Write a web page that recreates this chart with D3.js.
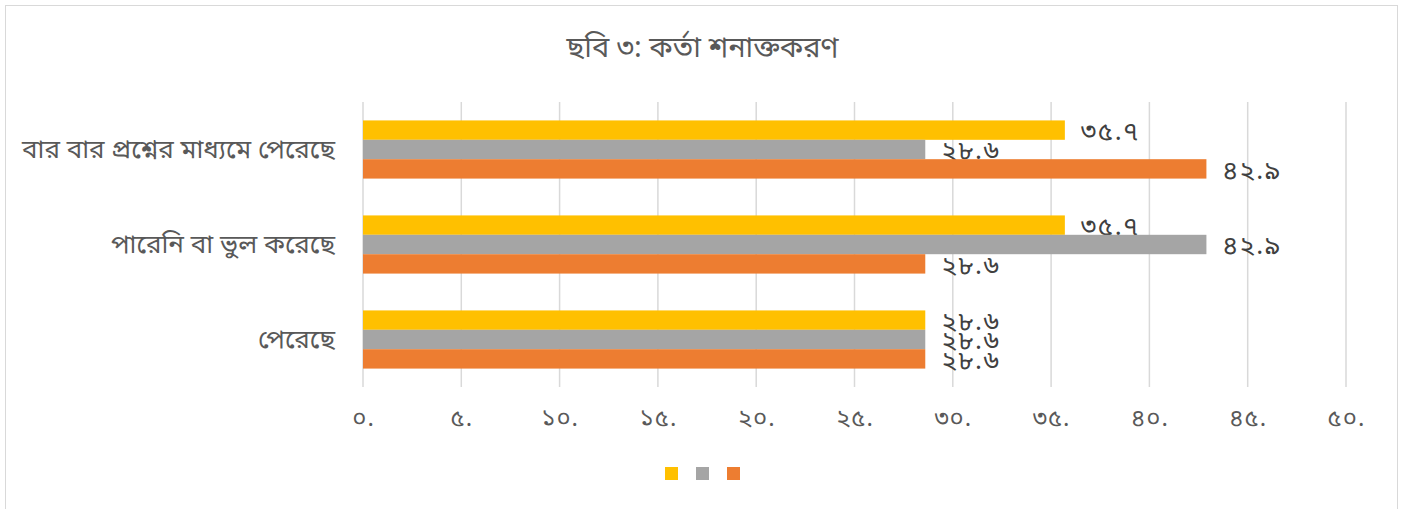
<!DOCTYPE html>
<html>
<head>
<meta charset="utf-8">
<script src="https://cdn.jsdelivr.net/npm/d3@7"></script>
<style>
  body { margin: 0; background: #fff; }
  svg text { font-family: "Noto Sans Bengali", "Vrinda", "Noto Sans", sans-serif; }
</style>
</head>
<body>
<div id="chart"></div>
<script>
// chart data
const title = 'ছবি ৩: কর্তা শনাক্তকরণ';
const categories = ['বার বার প্রশ্নের মাধ্যমে পেরেছে', 'পারেনি বা ভুল করেছে', 'পেরেছে'];
const seriesNames = ['', '', ''];
const seriesColours = ['#FFC000', '#A5A5A5', '#ED7D31'];
const series1 = [35.7, 35.7, 28.6];
const series2 = [28.6, 42.9, 28.6];
const series3 = [42.9, 28.6, 28.6];
const xTicks = [0, 5, 10, 15, 20, 25, 30, 35, 40, 45, 50];

const allSeries = [series1, series2, series3];

// convert latin digits to bengali ones
const bnDigits = '০১২৩৪৫৬৭৮৯';
const toBn = s => String(s).replace(/[0-9]/g, c => bnDigits[+c]);

const w = 1405;
const h = 509;
const margin = { top: 102, right: 59, bottom: 122, left: 363 };

const svg = d3.select('#chart')
  .append('svg')
  .attr('width', w)
  .attr('height', h);

// chart frame
svg.append('rect')
  .attr('x', 5.5)
  .attr('y', 5.5)
  .attr('width', 1392)
  .attr('height', 510)
  .attr('fill', '#fff')
  .attr('stroke', '#d9d9d9');

// scales
const xScale = d3.scaleLinear()
  .domain([0, 50])
  .range([margin.left, w - margin.right]);

const yScale = d3.scaleBand()
  .domain(categories)
  .range([margin.top, h - margin.bottom]);

const inner = d3.scaleBand()
  .domain(d3.range(allSeries.length))
  .range([0, yScale.bandwidth()])
  .paddingOuter(0.95)
  .paddingInner(0);

// gridlines
svg.append('g')
  .selectAll('line')
  .data(xTicks)
  .join('line')
    .attr('x1', d => xScale(d))
    .attr('x2', d => xScale(d))
    .attr('y1', margin.top)
    .attr('y2', h - margin.bottom)
    .attr('stroke', '#d9d9d9')
    .attr('stroke-width', 1.5);

// x axis labels
const xAxis = d3.axisBottom(xScale)
  .tickValues(xTicks)
  .tickSize(0)
  .tickPadding(22)
  .tickFormat(d => toBn(d) + '.');

svg.append('g')
  .classed('x-axis', true)
  .attr('transform', `translate(0, ${h - margin.bottom})`)
  .call(xAxis);

svg.select('.x-axis .domain').remove();
svg.selectAll('.x-axis .tick text')
  .attr('fill', '#595959')
  .attr('font-size', 24)
  .attr('letter-spacing', 1);

// y axis labels
const yAxis = d3.axisLeft(yScale)
  .tickSize(0)
  .tickPadding(28);

svg.append('g')
  .classed('y-axis', true)
  .attr('transform', `translate(${margin.left}, 0)`)
  .call(yAxis);

svg.select('.y-axis .domain').remove();
svg.selectAll('.y-axis .tick text')
  .attr('fill', '#595959')
  .attr('font-size', 26);

// bars
allSeries.forEach((values, s) => {
  const g = svg.append('g');

  g.selectAll('rect')
    .data(values)
    .join('rect')
      .attr('x', xScale(0))
      .attr('y', (d, i) => yScale(categories[i]) + inner(s))
      .attr('width', d => xScale(d) - xScale(0))
      .attr('height', inner.bandwidth())
      .attr('fill', seriesColours[s]);

  g.selectAll('text')
    .data(values)
    .join('text')
      .attr('x', d => xScale(d) + 16)
      .attr('y', (d, i) => yScale(categories[i]) + inner(s) + inner.bandwidth() / 2)
      .attr('dy', '0.38em')
      .attr('fill', '#404040')
      .attr('font-size', 26)
      .attr('letter-spacing', 1.5)
      .text(d => toBn(d));
});

// title
svg.append('text')
  .attr('x', w / 2)
  .attr('y', 57)
  .attr('text-anchor', 'middle')
  .attr('fill', '#595959')
  .attr('font-size', 29)
  .text(title);

// legend
const legend = svg.append('g');
legend.selectAll('rect')
  .data(seriesNames)
  .join('rect')
    .attr('x', (d, i) => 665 + i * 31)
    .attr('y', 467)
    .attr('width', 13)
    .attr('height', 13)
    .attr('fill', (d, i) => seriesColours[i]);
</script>
</body>
</html>
